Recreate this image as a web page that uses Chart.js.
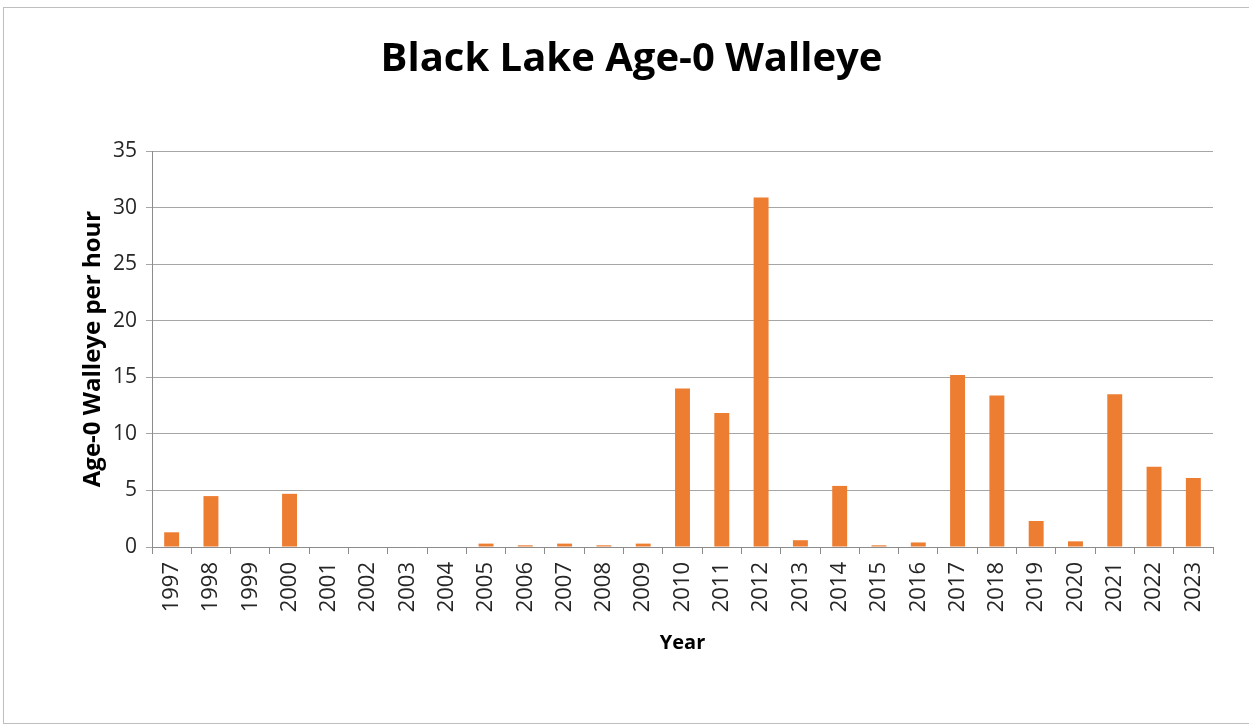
<!DOCTYPE html>
<html>
<head>
<meta charset="utf-8">
<script src="https://cdn.jsdelivr.net/npm/chart.js@4.4.0/dist/chart.umd.min.js"></script>
<style>
  html, body { margin: 0; padding: 0; background: #fff; }
  #wrap { position: absolute; left: 0; top: 0; width: 1249px; height: 727px; }
</style>
</head>
<body>
<div id="wrap"><canvas id="c" width="1249" height="727"></canvas></div>
<script>
const years = ['1997','1998','1999','2000','2001','2002','2003','2004','2005','2006','2007','2008','2009','2010','2011','2012','2013','2014','2015','2016','2017','2018','2019','2020','2021','2022','2023'];
const walleyePerHour = [1.3, 4.5, 0, 4.7, 0, 0, 0, 0, 0.3, 0.15, 0.3, 0.15, 0.3, 14.0, 11.85, 30.9, 0.6, 5.4, 0.15, 0.4, 15.2, 13.4, 2.3, 0.5, 13.5, 7.1, 6.1];
const chartTitle = 'Black Lake Age-0 Walleye';
const yTitle = 'Age-0 Walleye per hour';
const xTitle = 'Year';

const frame = {
  id: 'frame',
  beforeDraw(chart) {
    const ctx = chart.ctx;
    ctx.save();
    ctx.fillStyle = '#ffffff';
    ctx.fillRect(0, 0, chart.width, chart.height);
    ctx.strokeStyle = '#bfbfbf';
    ctx.lineWidth = 1;
    ctx.strokeRect(3.5, 7.5, 1252, 716);
    ctx.restore();
  }
};

new Chart(document.getElementById('c'), {
  type: 'bar',
  data: {
    labels: years,
    datasets: [{
      data: walleyePerHour,
      backgroundColor: '#ED7D31',
      borderWidth: 0,
      barPercentage: 0.38,
      categoryPercentage: 1.0
    }]
  },
  plugins: [frame],
  options: {
    responsive: false,
    animation: false,
    devicePixelRatio: 1,
    layout: { padding: { left: 50, right: 36, top: 0, bottom: 72 } },
    plugins: {
      legend: { display: false },
      tooltip: { enabled: false },
      title: {
        display: true,
        text: chartTitle,
        color: '#000',
        font: { family: 'Open Sans', size: 40, weight: 'bold' },
        padding: { top: 36, bottom: 67 }
      }
    },
    scales: {
      x: {
        offset: true,
        grid: { offset: true, drawOnChartArea: false, drawTicks: true, tickLength: 7, color: '#8c8c8c' },
        border: { display: true, color: '#8c8c8c' },
        ticks: {
          minRotation: 90, maxRotation: 90, autoSkip: false, padding: 8,
          color: '#262626',
          font: { family: 'Open Sans', size: 22 }
        },
        title: {
          display: true, text: xTitle, color: '#000',
          font: { family: 'Open Sans', size: 20, weight: 'bold' },
          padding: { top: 0, bottom: 0 }
        },
        afterFit(scale) { scale.height = 108; }
      },
      y: {
        min: 0, max: 35,
        ticks: {
          stepSize: 5, padding: 9, color: '#262626',
          font: { family: 'Open Sans', size: 21 }
        },
        grid: { color: '#a6a6a6', tickLength: 6 },
        border: { display: true, color: '#8c8c8c' },
        title: {
          display: true, text: yTitle, color: '#000',
          font: { family: 'Open Sans', size: 24, weight: 'bold' },
          padding: { top: 29, bottom: 0 }
        },
        afterFit(scale) { scale.width = 102; }
      }
    }
  }
});
</script>
</body>
</html>
